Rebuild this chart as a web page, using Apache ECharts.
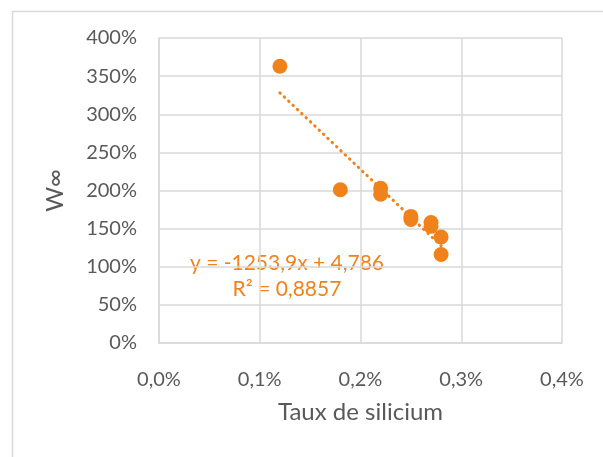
<!DOCTYPE html>
<html>
<head>
<meta charset="utf-8">
<script src="https://cdn.jsdelivr.net/npm/echarts@6/dist/echarts.min.js"></script>
<style>
html,body{margin:0;padding:0;background:#fff;}
#chart{width:603px;height:457px;}
</style>
</head>
<body>
<div id="chart"></div>
<script>
// Data (fractions: x = silicon rate, y = W∞)
var siliconRate = [0.0012, 0.0018, 0.0022, 0.0022, 0.0025, 0.0025, 0.0027, 0.0027, 0.0028, 0.0028];
var wInfinity   = [3.63,   2.01,   2.03,   1.95,   1.66,   1.62,   1.58,   1.53,   1.39,   1.16];
var xTicks = ['0,0%', '0,1%', '0,2%', '0,3%', '0,4%'];
var yTicks = ['0%', '50%', '100%', '150%', '200%', '250%', '300%', '350%', '400%'];
var trendSlope = -1253.9;
var trendIntercept = 4.786;
var trendRange = [0.0012, 0.0028];
var equationText = 'y = -1253,9x + 4,786';
var r2Text = 'R² = 0,8857';

var ORANGE = '#F0821C';
var FONT = 'Lato';
var points = siliconRate.map(function (x, i) { return [x, wInfinity[i]]; });
var trend = trendRange.map(function (x) { return [x, trendSlope * x + trendIntercept]; });

var chart = echarts.init(document.getElementById('chart'));
chart.setOption({
  animation: false,
  backgroundColor: '#fff',
  grid: { left: 159, top: 38, right: 41, bottom: 114 },
  xAxis: {
    type: 'value', min: 0, max: 0.004, interval: 0.001,
    name: 'Taux de silicium', nameLocation: 'middle', nameGap: 57,
    nameTextStyle: { fontFamily: FONT, fontSize: 24, color: '#595959' },
    axisLine: { show: true, lineStyle: { color: '#d9d9d9', width: 1.5 } },
    axisTick: { show: false },
    splitLine: { show: true, lineStyle: { color: '#d9d9d9', width: 1.5 } },
    axisLabel: {
      fontFamily: FONT, fontSize: 20, color: '#595959', margin: 27,
      formatter: function (v) { return xTicks[Math.round(v / 0.001)]; }
    }
  },
  yAxis: {
    type: 'value', min: 0, max: 4, interval: 0.5,
    name: 'W∞', nameLocation: 'middle', nameGap: 92, nameRotate: 90,
    nameTextStyle: { fontFamily: FONT, fontSize: 24, color: '#595959' },
    axisLine: { show: true, lineStyle: { color: '#d9d9d9', width: 1.5 } },
    axisTick: { show: false },
    splitLine: { show: true, lineStyle: { color: '#d9d9d9', width: 1.5 } },
    axisLabel: {
      fontFamily: FONT, fontSize: 20, color: '#595959', margin: 22,
      formatter: function (v) { return yTicks[Math.round(v / 0.5)]; }
    }
  },
  graphic: [
    { type: 'rect', left: 10, top: 9, shape: { width: 700, height: 600 }, silent: true,
      style: { fill: 'none', stroke: '#d9d9d9', lineWidth: 1.5 }, z: -1 },
    { type: 'text', x: 287, y: 263, style: { text: equationText, fill: ORANGE, font: '21px ' + FONT, textAlign: 'center', textVerticalAlign: 'middle' } },
    { type: 'text', x: 287, y: 289, style: { text: r2Text, fill: ORANGE, font: '21px ' + FONT, textAlign: 'center', textVerticalAlign: 'middle' } }
  ],
  series: [
    {
      type: 'line', data: trend, symbol: 'none', z: 3,
      lineStyle: { color: ORANGE, width: 3, type: [0.5, 5.5], cap: 'round' }
    },
    {
      type: 'scatter', data: points, symbol: 'circle', symbolSize: 15, z: 2,
      itemStyle: { color: ORANGE, opacity: 1 }
    }
  ]
});
</script>
</body>
</html>
